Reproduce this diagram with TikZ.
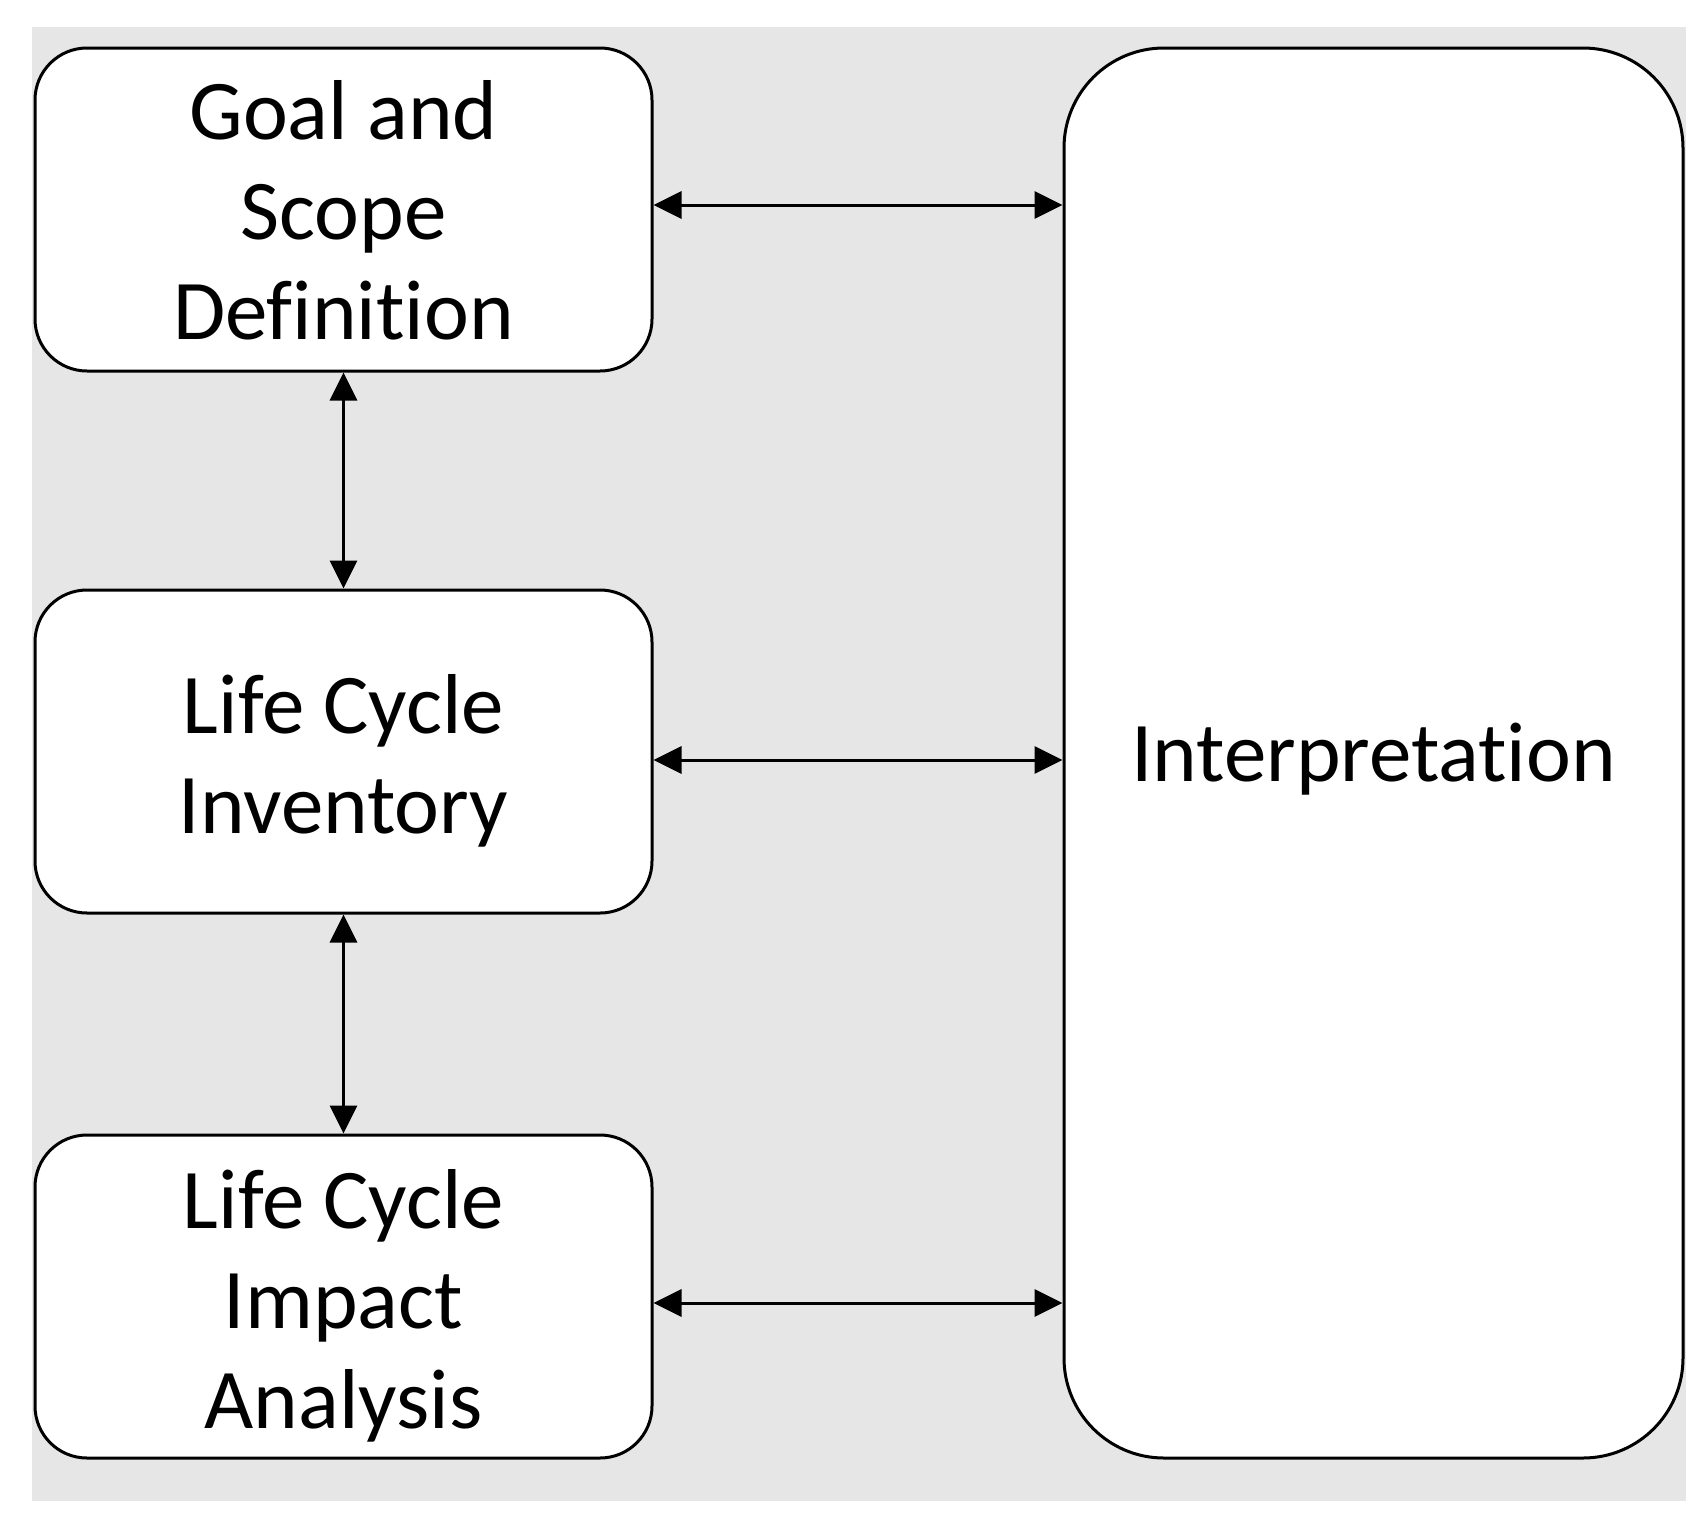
\documentclass[tikz,border=0pt]{standalone}
\usepackage{fontspec}
\setmainfont[Ligatures=NoCommon]{Carlito}
\usetikzlibrary{arrows.meta,calc}
\definecolor{bggray}{RGB}{230,230,230}
\tikzset{
  stage/.style={draw=black, line width=1.5pt, fill=white, rounded corners=26pt,
    minimum width=308.5pt, minimum height=161.5pt, inner sep=0pt},
  bigbox/.style={draw=black, line width=1.5pt, fill=white, rounded corners=50pt,
    minimum width=309.5pt, minimum height=705pt, inner sep=0pt},
  lbl/.style={align=center, font=\fontsize{42.5pt}{50pt}\selectfont, inner sep=0pt},
  arr/.style={line width=1.5pt, {Triangle[length=14pt,width=13.5pt]}-{Triangle[length=14pt,width=13.5pt]}}
}
\begin{document}
\begin{tikzpicture}[x=0.5pt,y=-0.5pt]
\useasboundingbox (0,0) rectangle (1703,1527);
\fill[bggray] (31.7,27) rectangle (1686,1501);
\node[stage] (g) at (343.5,209.5) {};
\node[stage] (l) at (343.5,751.5) {};
\node[stage] (a) at (343.5,1296.5) {};
\node[bigbox] (i) at (1373.5,753) {};
\node[lbl] (gt) at ($(g.center)+(0,1)$) {Goal and\\Scope\\Definition};
\node[lbl] (lt) at ($(l.center)+(0,9)$) {Life Cycle\\Inventory};
\node[lbl] (at) at ($(a.center)+(0,9)$) {Life Cycle\\Impact\\Analysis};
\node[lbl] (it) at ($(i.center)+(0,6)$) {Interpretation};
\draw[arr] (g.south) -- (l.north);
\draw[arr] (l.south) -- (a.north);
\draw[arr] ($(g.east)+(0,-4.5)$) -- ($(g.east -| i.west)+(0,-4.5)$);
\draw[arr] ($(l.east)+(0,8.5)$) -- ($(l.east -| i.west)+(0,8.5)$);
\draw[arr] ($(a.east)+(0,6.5)$) -- ($(a.east -| i.west)+(0,6.5)$);
\end{tikzpicture}
\end{document}
